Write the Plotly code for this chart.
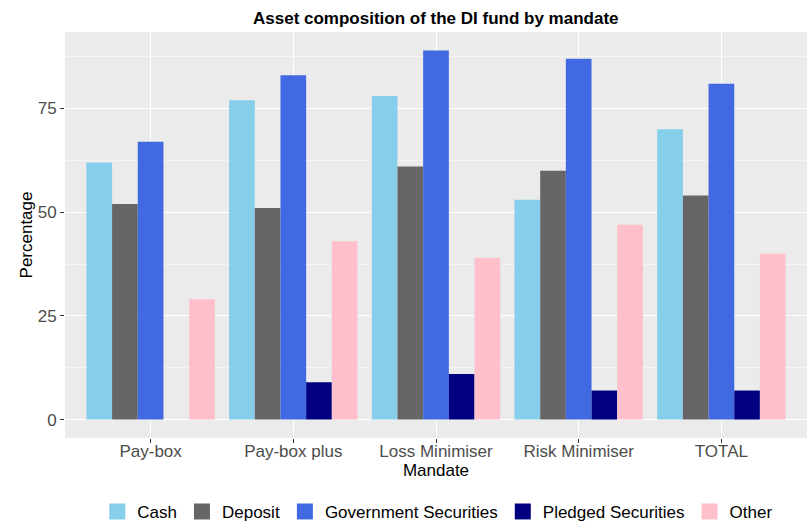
import plotly.graph_objects as go

mandates = ["Pay-box", "Pay-box plus", "Loss Minimiser", "Risk Minimiser", "TOTAL"]
cash = [62, 77, 78, 53, 70]
deposit = [52, 51, 61, 60, 54]
gov_sec = [67, 83, 89, 87, 81]
pledged = [0, 9, 11, 7, 7]
other = [29, 43, 39, 47, 40]

series = [
    ("Cash", cash, "#87CEEB"),
    ("Deposit", deposit, "#666666"),
    ("Government Securities", gov_sec, "#4169E1"),
    ("Pledged Securities", pledged, "#000080"),
    ("Other", other, "#FFC0CB"),
]

fig = go.Figure()
for name, vals, col in series:
    fig.add_trace(go.Bar(x=mandates, y=vals, name=name, legendgroup=name, showlegend=False,
                         marker=dict(color=col, line=dict(width=0))))
# legend entries with larger square keys (no visible marks)
for name, vals, col in series:
    fig.add_trace(go.Scatter(x=[mandates[0]], y=[None], name=name, legendgroup=name, mode="markers",
                             marker=dict(symbol="square", size=20, color=col), hoverinfo="skip"))

font = "Liberation Sans, Arial, sans-serif"
fig.update_layout(
    width=807, height=523,
    margin=dict(l=65, r=0, t=32, b=85, autoexpand=False),
    paper_bgcolor="white",
    plot_bgcolor="#EBEBEB",
    barmode="group", bargap=0.1, bargroupgap=0,
    font=dict(family=font, size=16, color="black"),
    title=dict(text="<b>Asset composition of the DI fund by mandate</b>", x=0.54, xanchor="center",
               yref="container", y=1 - 18 / 523, yanchor="middle", font=dict(size=17, color="black")),
    legend=dict(orientation="h", x=0.0435, xanchor="left", y=-0.182, yanchor="middle",
                font=dict(size=17, color="black"), traceorder="normal", itemwidth=30,
                tracegroupgap=0, itemclick=False, itemdoubleclick=False),
    showlegend=True,
)
fig.update_xaxes(
    range=[-0.6, 4.6], showgrid=True, gridcolor="white", gridwidth=1.2,
    ticks="outside", ticklen=4, tickcolor="#333333", tickfont=dict(size=17, color="#4D4D4D"),
    ticklabelstandoff=-6,
    title=dict(text="Mandate", font=dict(size=17, color="black"), standoff=0),
    zeroline=False, showline=False, automargin=False,
)
fig.update_yaxes(
    range=[-4.45, 93.45], tickvals=[0, 25, 50, 75], showgrid=True, gridcolor="white", gridwidth=1.2,
    minor=dict(tickvals=[12.5, 37.5, 62.5, 87.5], showgrid=True, gridcolor="#F5F5F5", gridwidth=0.6, ticks=""),
    ticks="outside", ticklen=4, tickcolor="#333333", tickfont=dict(size=17, color="#4D4D4D"),
    title=dict(text="Percentage", font=dict(size=17, color="black"), standoff=0),
    zeroline=False, showline=False, automargin=False,
)
fig.write_html("out.html", config={"displayModeBar": False},
               post_script="document.body.style.margin='0px';document.body.style.overflow='hidden';")
